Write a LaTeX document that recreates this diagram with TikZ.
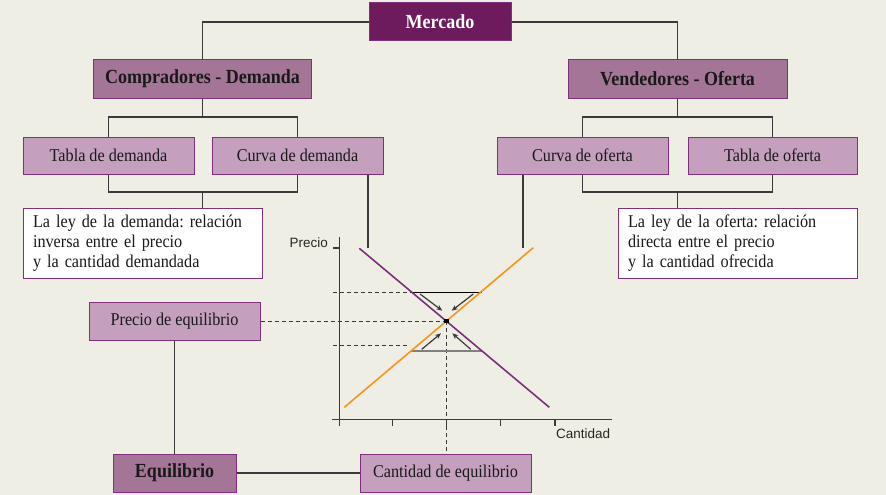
\documentclass[tikz,border=0pt]{standalone}
\usepackage{fontspec}
\setmainfont{Liberation Serif}[FakeStretch=0.9]
\newfontfamily\ejefont{Liberation Sans}
\usepackage{tikz}
\usetikzlibrary{arrows.meta}
\usetikzlibrary{positioning}
\frenchspacing

\definecolor{fondo}{HTML}{EFEEE4}
\definecolor{mercado}{HTML}{6D1B5D}
\definecolor{nivelA}{HTML}{A47596}
\definecolor{nivelB}{HTML}{C4A0BE}
\definecolor{borde}{HTML}{80307A}
\definecolor{linea}{HTML}{3A3A3A}
\definecolor{demanda}{HTML}{7B2F7A}
\definecolor{oferta}{HTML}{F7941D}

\begin{document}
\begin{tikzpicture}
	[x=1pt,y=-1pt,
	 caja/.style={draw=borde,line width=1pt,minimum height=38pt,inner sep=0pt,text=black!90,font=\fontsize{18}{20}\selectfont},
	 cajaA/.style={caja,fill=nivelA,font=\fontsize{20}{22}\selectfont\bfseries},
	 cajaB/.style={caja,fill=nivelB},
	 ley/.style={caja,fill=white,minimum width=239pt,minimum height=70pt,text width=219pt,align=left},
	 con/.style={draw=linea,line width=1.2pt},
	 eje/.style={draw=linea,line width=1.2pt},
	 guia/.style={draw=linea,line width=1pt,dash pattern=on 4pt off 3pt},
	 flecha/.style={draw=linea,line width=1.2pt,-{Stealth[length=6pt,width=5pt]}}]
	\useasboundingbox (0,0) rectangle (886,495);
	\fill[fondo] (0,0) rectangle (886,495);

	% cajas
	\node[caja,fill=mercado,text=white,minimum width=142pt,font=\fontsize{20}{22}\selectfont\bfseries] (mercado) at (440,22) {Mercado};
	\node[cajaA,minimum width=218pt] (comp) at (202.5,79) {Compradores - Demanda};
	\node[cajaA,minimum width=219pt] (vend) at (677.5,79) {Vendedores - Oferta};
	\node[cajaB,minimum width=171pt,minimum height=37pt] (tabD) at (108.5,155.5) {Tabla de demanda};
	\node[cajaB,minimum width=171pt,minimum height=37pt] (curD) at (297.5,155.5) {Curva de demanda};
	\node[cajaB,minimum width=171pt,minimum height=37pt] (curO) at (582.5,155.5) {Curva de oferta};
	\node[cajaB,minimum width=169pt,minimum height=37pt] (tabO) at (772.5,155.5) {Tabla de oferta};
	\node[ley] (leyD) at (142.5,243) {La ley de la demanda: relación\\inversa entre el precio\\y la cantidad demandada};
	\node[ley] (leyO) at (737.5,243) {La ley de la oferta: relación\\directa entre el precio\\y la cantidad ofrecida};
	\node[cajaB,minimum width=171pt] (precE) at (174.5,321) {Precio de equilibrio};
	\node[cajaA,minimum width=123pt] (equil) at (174.5,473) {Equilibrio};
	\node[cajaB,minimum width=171pt] (cantE) at (445.5,473) {Cantidad de equilibrio};

	% uniones
	\coordinate (cjD) at (202.5,117);
	\coordinate (cjD2) at (202.5,192);
	\coordinate (cjO) at (677.5,117);
	\coordinate (cjO2) at (677.5,192);
	\coordinate (finD) at (368,248);
	\coordinate (finO) at (523,248);
	\draw[con] (mercado.west) -| (comp.north);
	\draw[con] (mercado.east) -| (vend.north);
	\draw[con] (comp.south) -- (cjD);
	\draw[con] (tabD.north) |- (cjD) -| (curD.north);
	\draw[con] (tabD.south) |- (cjD2) -| (curD.south);
	\draw[con] (cjD2) -- (cjD2 |- leyD.north);
	\draw[con] (vend.south) -- (cjO);
	\draw[con] (curO.north) |- (cjO) -| (tabO.north);
	\draw[con] (curO.south) |- (cjO2) -| (tabO.south);
	\draw[con] (cjO2) -- (cjO2 |- leyO.north);
	\draw[con] (curD.south -| finD) -- (finD);
	\draw[con] (curO.south -| finO) -- (finO);
	\draw[con] (precE.south) -- (equil.north);
	\draw[con] (equil.east) -- (cantE.west);

	% grafica
	\coordinate (eq) at (446.7,321);
	\draw[eje] (339.3,237) -- (339.3,426);
	\draw[eje] (332,419.3) -- (612,419.3);
	\draw[eje] (333,248) -- (339.3,248);
	\foreach \x in {392.7,446.7,500.7,555}
		\draw[eje] (\x,419.3) -- (\x,426);
	\node[anchor=east,inner sep=0pt,text=black!85,font=\ejefont\fontsize{13.5}{15}\selectfont] (lblP) at (328,243) {Precio};
	\node[anchor=west,inner sep=0pt,text=black!85,font=\ejefont\fontsize{13.5}{15}\selectfont] (lblC) at (556,434) {Cantidad};
	\draw[guia] (333,292.3) -- (411.7,292.3);
	\draw[guia] (333,345.7) -- (410,345.7);
	\draw[guia] (precE.east) -- (eq);
	\draw[guia] (eq) -- (eq |- cantE.north);
	\draw[black,line width=1.2pt] (411.7,292.3) -- (481.7,292.3);
	\draw[black!50,line width=1.8pt] (411,350.7) -- (481.7,350.7);
	\draw[demanda,line width=1.6pt] (359.3,248.3) -- (549.3,407.3);
	\draw[oferta,line width=1.6pt] (344.3,407.3) -- (533.3,247.7);
	\draw[flecha] (420,294) -- (442.3,310.7);
	\draw[flecha] (473.3,294) -- (451.7,310.7);
	\draw[flecha] (421.7,349.3) -- (441,333.3);
	\draw[flecha] (470.7,349.3) -- (452.3,333.3);
	\fill[black] (eq) +(-2.3,-2.3) rectangle +(2.3,2.3);
\end{tikzpicture}
\end{document}
